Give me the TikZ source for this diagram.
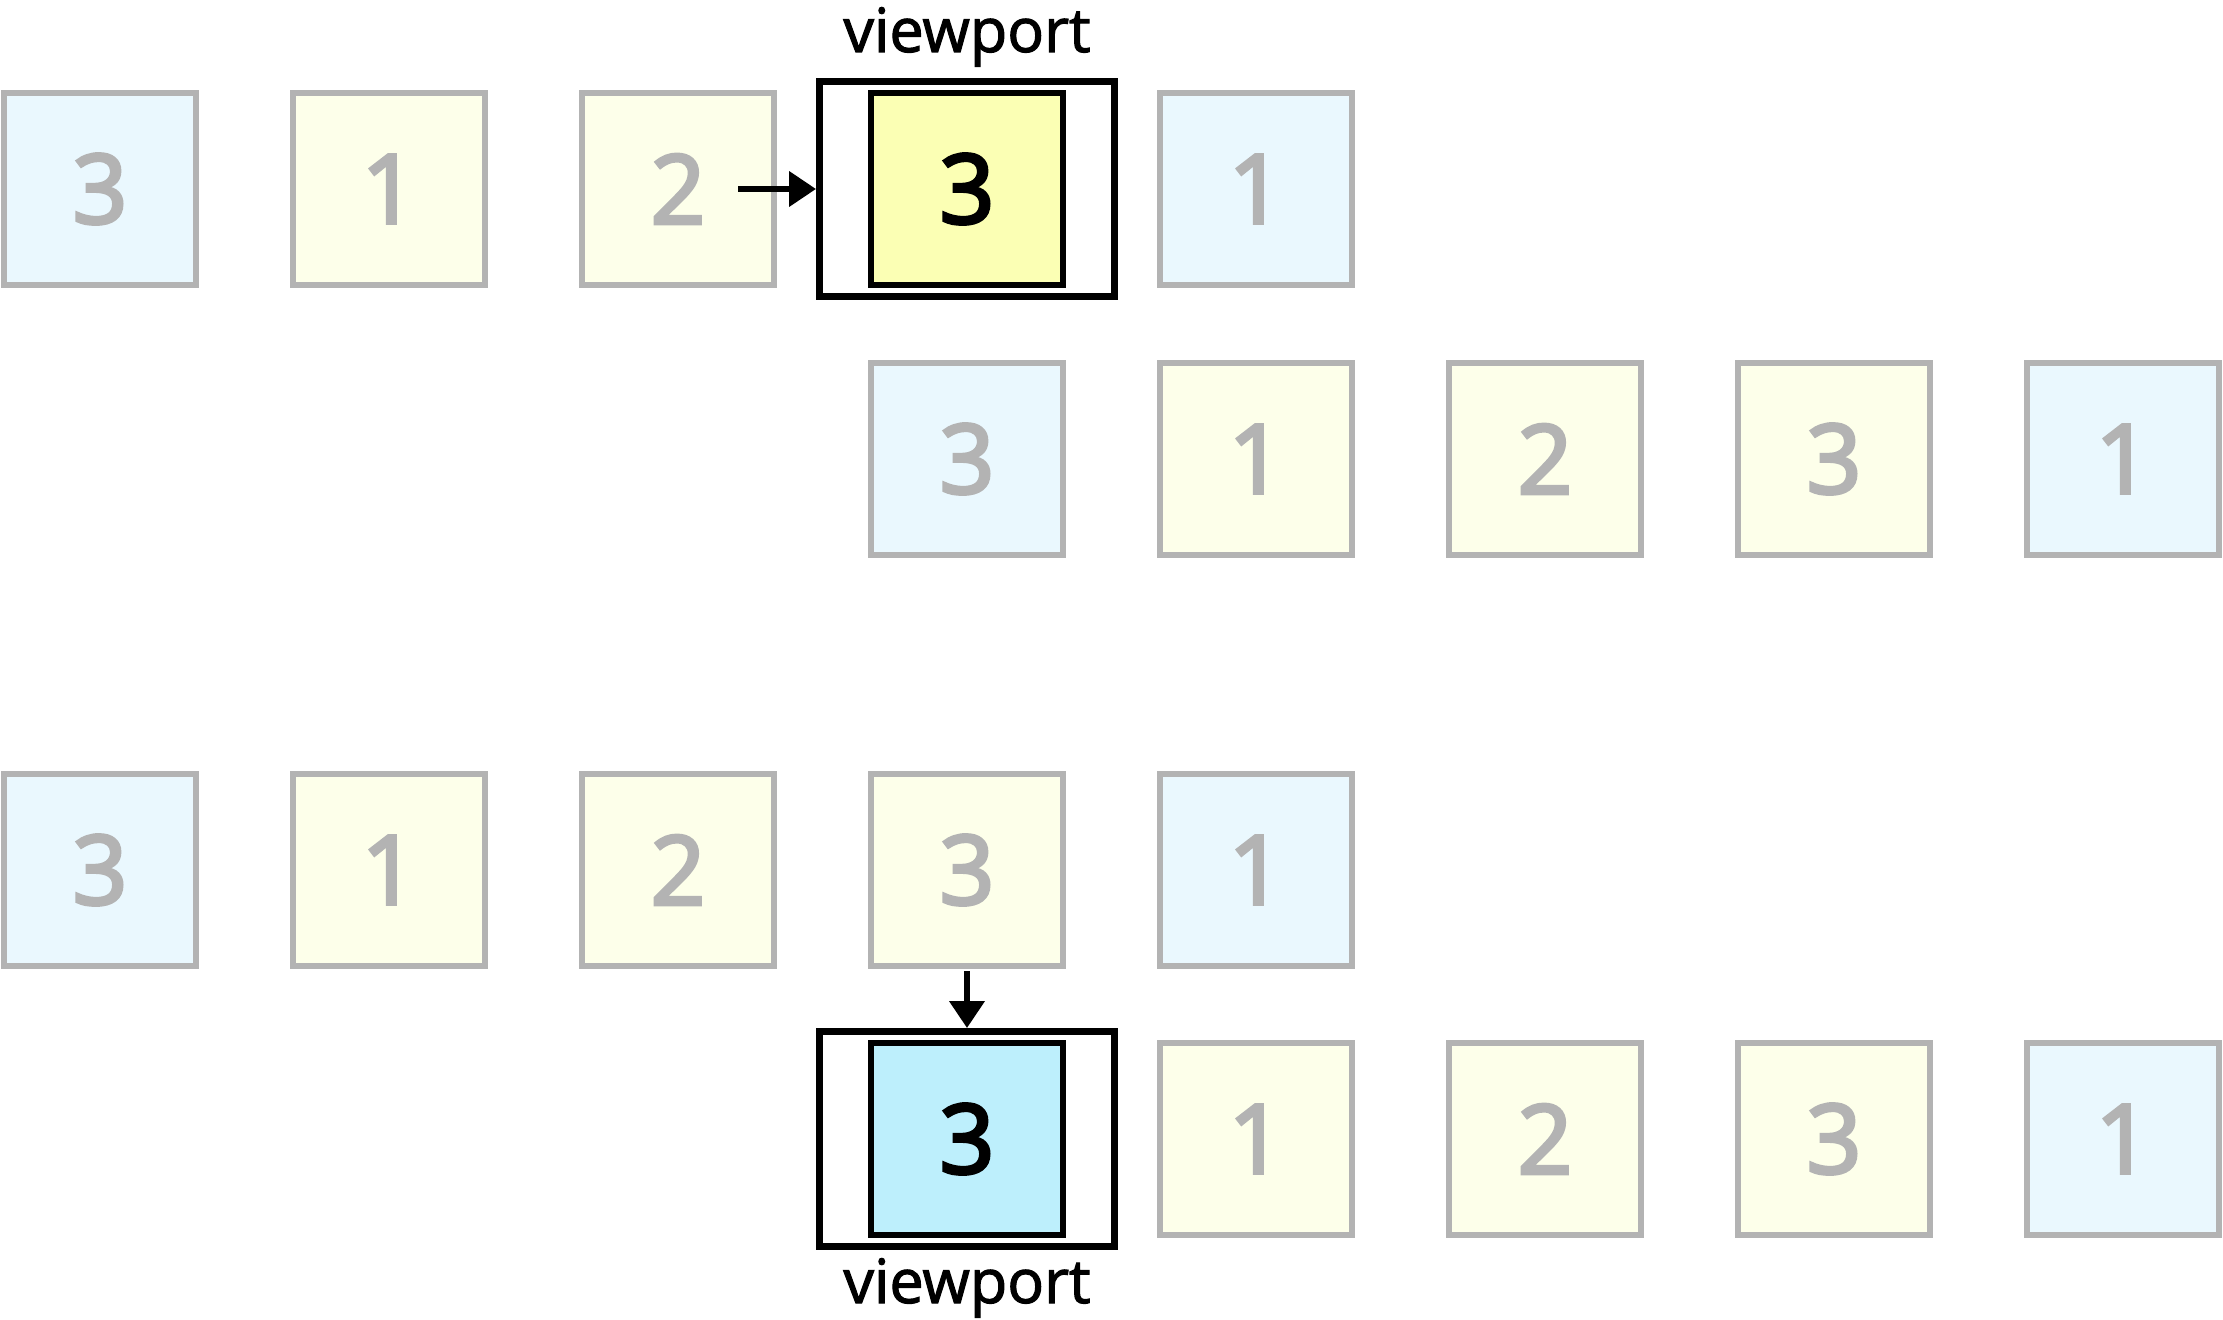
\documentclass[tikz,border=0pt]{standalone}
\usepackage{fontspec}
\setmainfont{Open Sans}
\newfontfamily\cellfont{Open Sans}[FakeBold=3.5]
\newfontfamily\labelfont{Open Sans}[FakeBold=1.8]
\usetikzlibrary{arrows.meta}
\definecolor{cellblue}{RGB}{234,248,254}
\definecolor{cellyellow}{RGB}{253,255,234}
\definecolor{hiyellow}{RGB}{251,255,180}
\definecolor{hiblue}{RGB}{189,239,252}
\definecolor{cellgray}{RGB}{179,179,179}
\tikzset{
  cell/.style={draw=cellgray, line width=3.4pt, minimum size=96pt, inner sep=0pt,
    text=cellgray, font=\cellfont\fontsize{48}{48}\selectfont},
  hicell/.style={cell, draw=black, text=black},
  viewbox/.style={draw=black, line width=3.4pt, minimum width=147.5pt, minimum height=107.5pt, inner sep=0pt},
  viewlabel/.style={anchor=base, font=\labelfont\fontsize{30.5}{30.5}\selectfont},
  move/.style={line width=3.4pt, -{Triangle[length=13.5pt,width=17pt]}}
}
\begin{document}
\begin{tikzpicture}[x=0.5pt, y=-0.5pt]
    \useasboundingbox (0,0) rectangle (2223,1320);

    % first row: the viewport slides to the right
    \foreach \i / \num / \col in {1/3/cellblue, 2/1/cellyellow, 3/2/cellyellow, 5/1/cellblue}
    {
      \node [cell, fill=\col] (a\i) at ({289*\i-189},189) {\num};
    }
    \node [viewbox] (vp1) at (967,189) {};
    \node [hicell, fill=hiyellow] (a4) at (967,189) {3};
    \node [viewlabel] (lab1) at (967,52) {viewport};
    \coordinate (s1) at (738,189);
    \draw [move] (s1) -- (vp1.west);

    % second row
    \foreach \i / \num / \col in {4/3/cellblue, 5/1/cellyellow, 6/2/cellyellow, 7/3/cellyellow, 8/1/cellblue}
    {
      \node [cell, fill=\col] (b\i) at ({289*\i-189},459) {\num};
    }

    % third row: the viewport jumps back
    \foreach \i / \num / \col in {1/3/cellblue, 2/1/cellyellow, 3/2/cellyellow, 4/3/cellyellow, 5/1/cellblue}
    {
      \node [cell, fill=\col] (c\i) at ({289*\i-189},870) {\num};
    }

    % fourth row
    \foreach \i / \num / \col in {5/1/cellyellow, 6/2/cellyellow, 7/3/cellyellow, 8/1/cellblue}
    {
      \node [cell, fill=\col] (d\i) at ({289*\i-189},1139) {\num};
    }
    \node [viewbox] (vp2) at (967,1139) {};
    \node [hicell, fill=hiblue] (d4) at (967,1139) {3};
    \node [viewlabel] (lab2) at (967,1303) {viewport};
    \draw [move] ([yshift=-1pt]c4.south) -- (vp2.north);
\end{tikzpicture}
\end{document}
